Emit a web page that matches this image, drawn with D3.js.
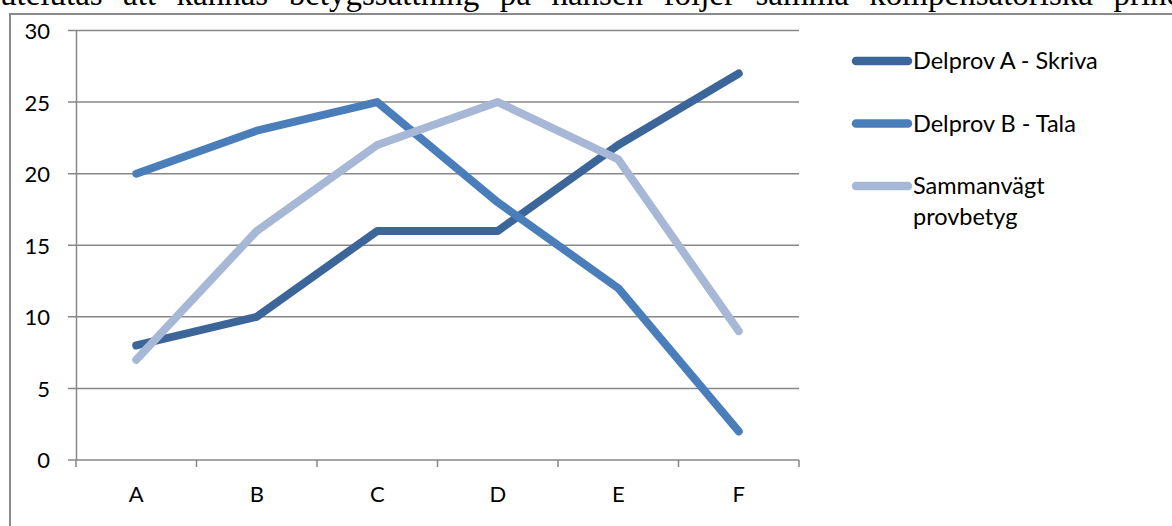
<!DOCTYPE html>
<html><head><meta charset="utf-8">
<script src="https://cdn.jsdelivr.net/npm/d3@7"></script>
<style>html,body{margin:0;padding:0;background:#fff;overflow:hidden}</style>
</head><body>
<script>
const categories = ["A","B","C","D","E","F"];
const seriesNames = ["Delprov A - Skriva","Delprov B - Tala","Sammanvägt provbetyg"];
const skriva = [8,10,16,16,22,27];
const tala = [20,23,25,18,12,2];
const sammanvagt = [7,16,22,25,21,9];
const yTicks = [0,5,10,15,20,25,30];
const colors = ["#3C6699","#4A7EBB","#A6B8D6"];
const topText = "utelutas att kännas betygssättning på hansen följer samma kompensatoriska principen";

(function(){
const W = 1172, H = 526;
const svg = d3.select("body").append("svg").attr("width",W).attr("height",H);
const font = "Lato, 'Open Sans', sans-serif";

// clipped document text at top (justified by word spacing)
const words = topText.split(" ");
const serif = "'Liberation Serif', 'Times New Roman', serif";
const fs = 33;
const probe = svg.append("text").attr("font-family",serif).attr("font-size",fs)
  .text(words.slice(0,-1).join(" "));
const wNat = probe.node().getComputedTextLength();
probe.remove();
const ws = Math.max(0,(1093 - wNat)/(words.length-2));
svg.append("text").attr("x",0).attr("y",5)
  .attr("font-family",serif).attr("font-size",fs).attr("fill","#000")
  .attr("word-spacing",ws)
  .text(topText);

// chart frame
svg.append("rect").attr("x",10).attr("y",14).attr("width",W+20).attr("height",H+20)
  .attr("fill","#fff").attr("stroke","#8a8a8a").attr("stroke-width",2);

const pLeft = 76, pRight = 799, pTop = 30.5, pBottom = 460;
const x = d3.scaleBand().domain(categories).range([pLeft,pRight]);
const y = d3.scaleLinear().domain([0,30]).range([pBottom,pTop]);

// gridlines
svg.append("g").selectAll("line").data(yTicks).join("line")
  .attr("x1",68).attr("x2",pRight).attr("y1",d=>y(d)).attr("y2",d=>y(d))
  .attr("stroke","#878787").attr("stroke-width",1.5);

// y axis
const yAxis = d3.axisLeft(y).tickValues(yTicks).tickSize(0).tickPadding(0);
const gy = svg.append("g").attr("transform",`translate(${pLeft},0)`).call(yAxis);
gy.select(".domain").attr("stroke","#878787").attr("stroke-width",1.5);
gy.selectAll("text").attr("x",-26).attr("dy","0.36em")
  .attr("font-family",font).attr("font-size",22).attr("fill","#000");

// x axis
const xAxis = d3.axisBottom(x).tickSize(0).tickPadding(0);
const gx = svg.append("g").attr("transform",`translate(0,${pBottom})`).call(xAxis);
gx.select(".domain").remove();
gx.selectAll("text").attr("y",42).attr("dy",0)
  .attr("font-family",font).attr("font-size",22).attr("fill","#000");
const boundaries = categories.map(c=>x(c)).concat([x(categories[categories.length-1])+x.bandwidth()]);
svg.append("g").selectAll("line").data(boundaries).join("line")
  .attr("x1",d=>d).attr("x2",d=>d).attr("y1",pBottom).attr("y2",pBottom+7)
  .attr("stroke","#878787").attr("stroke-width",1.5);

// lines
const allSeries = [skriva, tala, sammanvagt];
const line = d3.line().x((d,i)=>x(categories[i])+x.bandwidth()/2).y(d=>y(d));
allSeries.forEach((s,k)=>{
  svg.append("path").datum(s).attr("d",line).attr("fill","none")
    .attr("stroke",colors[k]).attr("stroke-width",8)
    .attr("stroke-linecap","round").attr("stroke-linejoin","round");
});

// legend
const legY = [61,123.5,186];
const lg = svg.append("g");
seriesNames.forEach((n,k)=>{
  lg.append("line").attr("x1",856).attr("x2",908).attr("y1",legY[k]).attr("y2",legY[k])
    .attr("stroke",colors[k]).attr("stroke-width",8.5).attr("stroke-linecap","round");
  const t = lg.append("text").attr("x",913).attr("y",legY[k]+8)
    .attr("font-family",font).attr("font-size",23.5).attr("fill","#000");
  if (k===2) {
    t.append("tspan").attr("x",913).attr("y",legY[k]+8).text("Sammanvägt");
    t.append("tspan").attr("x",913).attr("y",legY[k]+39).text("provbetyg");
  } else t.text(n);
});
})();
</script>
</body></html>
